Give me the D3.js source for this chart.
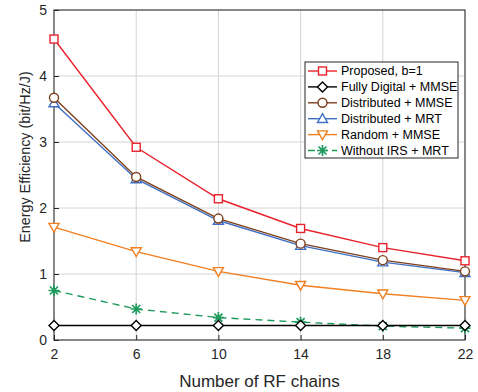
<!DOCTYPE html>
<html>
<head>
<meta charset="utf-8">
<script src="https://cdn.jsdelivr.net/npm/d3@7"></script>
<style>
  html, body { margin: 0; padding: 0; background: #fff; }
  svg { display: block; font-family: "Liberation Sans", Arial, sans-serif; }
</style>
</head>
<body>
<svg id="chart" width="478" height="392"></svg>
<script>
// Number of RF chains on the x axis
const rfChains = [2, 6, 10, 14, 18, 22];
const xTicks = [2, 6, 10, 14, 18, 22];
const yTicks = [0, 1, 2, 3, 4, 5];

// Energy efficiency (bit/Hz/J) for each scheme
const proposed      = [4.56, 2.92, 2.14, 1.69, 1.40, 1.20];
const fullyDigital  = [0.22, 0.22, 0.22, 0.22, 0.22, 0.22];
const distMMSE      = [3.67, 2.47, 1.84, 1.46, 1.21, 1.04];
const distMRT       = [3.59, 2.44, 1.81, 1.43, 1.18, 1.02];
const randomMMSE    = [1.71, 1.34, 1.04, 0.83, 0.70, 0.60];
const withoutIRS    = [0.75, 0.47, 0.34, 0.27, 0.21, 0.18];

const seriesNames = ["Proposed, b=1", "Fully Digital + MMSE", "Distributed + MMSE",
                     "Distributed + MRT", "Random + MMSE", "Without IRS + MRT"];

const series = [
  { name: seriesNames[0], values: proposed,     color: "#e8222c", marker: "square",  dash: null },
  { name: seriesNames[1], values: fullyDigital, color: "#000000", marker: "diamond", dash: null },
  { name: seriesNames[2], values: distMMSE,     color: "#7e3f1c", marker: "circle",  dash: null },
  { name: seriesNames[3], values: distMRT,      color: "#3e6fc2", marker: "triUp",   dash: null },
  { name: seriesNames[4], values: randomMMSE,   color: "#f07f22", marker: "triDown", dash: null },
  { name: seriesNames[5], values: withoutIRS,   color: "#1e9a5c", marker: "star",    dash: "7,5" }
];

const svg = d3.select("#chart");
const margin = { left: 54, right: 13, top: 10, bottom: 52 };
const W = 478, H = 392;
const x = d3.scaleLinear().domain([2, 22]).range([margin.left, W - margin.right]);
const y = d3.scaleLinear().domain([0, 5]).range([H - margin.bottom, margin.top]);

// grid
const grid = svg.append("g");
grid.selectAll("line.vx").data(xTicks).enter().append("line")
  .attr("x1", d => x(d)).attr("x2", d => x(d))
  .attr("y1", y(0)).attr("y2", y(5))
  .attr("stroke", "#d4d4d4").attr("stroke-width", 1);
grid.selectAll("line.hy").data(yTicks).enter().append("line")
  .attr("y1", d => y(d)).attr("y2", d => y(d))
  .attr("x1", x(2)).attr("x2", x(22))
  .attr("stroke", "#d4d4d4").attr("stroke-width", 1);

// axes (ticks point inward)
const xAxis = d3.axisBottom(x).tickValues(xTicks).tickSize(-5).tickPadding(9).tickFormat(d3.format("d"));
const yAxis = d3.axisLeft(y).tickValues(yTicks).tickSize(-5).tickPadding(7).tickFormat(d3.format("d"));
const gx = svg.append("g").attr("transform", `translate(0,${y(0)})`).call(xAxis);
const gy = svg.append("g").attr("transform", `translate(${x(2)},0)`).call(yAxis);
[gx, gy].forEach(g => {
  g.select(".domain").remove();
  g.selectAll(".tick line").attr("stroke", "#262626");
  g.selectAll(".tick text").attr("fill", "#262626").style("font-size", "14px")
    .style("font-family", "'Liberation Sans', Arial, sans-serif");
});

// box
svg.append("rect")
  .attr("x", x(2)).attr("y", y(5))
  .attr("width", x(22) - x(2)).attr("height", y(0) - y(5))
  .attr("fill", "none").attr("stroke", "#262626").attr("stroke-width", 1);

// marker drawing
function drawMarker(g, type, cx, cy, color) {
  const s = 4;
  if (type === "square") {
    g.append("rect").attr("x", cx - s).attr("y", cy - s).attr("width", 2 * s).attr("height", 2 * s)
      .attr("fill", "#fff").attr("stroke", color).attr("stroke-width", 1.4);
  } else if (type === "diamond") {
    const d = 5;
    g.append("path").attr("d", `M${cx},${cy - d}L${cx + d},${cy}L${cx},${cy + d}L${cx - d},${cy}Z`)
      .attr("fill", "#fff").attr("stroke", color).attr("stroke-width", 1.4);
  } else if (type === "circle") {
    g.append("circle").attr("cx", cx).attr("cy", cy).attr("r", 4.5)
      .attr("fill", "#fff").attr("stroke", color).attr("stroke-width", 1.4);
  } else if (type === "triUp") {
    const d = 5;
    g.append("path").attr("d", `M${cx},${cy - d}L${cx + d},${cy + d * 0.75}L${cx - d},${cy + d * 0.75}Z`)
      .attr("fill", "#fff").attr("stroke", color).attr("stroke-width", 1.4);
  } else if (type === "triDown") {
    const d = 5;
    g.append("path").attr("d", `M${cx},${cy + d}L${cx + d},${cy - d * 0.75}L${cx - d},${cy - d * 0.75}Z`)
      .attr("fill", "#fff").attr("stroke", color).attr("stroke-width", 1.4);
  } else if (type === "star") {
    const d = 5.5, e = 4;
    g.append("path")
      .attr("d", `M${cx - d},${cy}L${cx + d},${cy}M${cx},${cy - d}L${cx},${cy + d}` +
                 `M${cx - e},${cy - e}L${cx + e},${cy + e}M${cx - e},${cy + e}L${cx + e},${cy - e}`)
      .attr("fill", "none").attr("stroke", color).attr("stroke-width", 1.7);
  }
}

// lines and markers
const line = d3.line().x((d, i) => x(rfChains[i])).y(d => y(d));
// draw in reverse so the proposed curve sits on top
series.slice().reverse().forEach(s => {
  const g = svg.append("g");
  g.append("path").datum(s.values).attr("d", line)
    .attr("fill", "none").attr("stroke", s.color).attr("stroke-width", 1.4)
    .attr("stroke-dasharray", s.dash);
  s.values.forEach((v, i) => drawMarker(g, s.marker, x(rfChains[i]), y(v), s.color));
});

// axis titles
svg.append("text")
  .attr("x", (x(2) + x(22)) / 2).attr("y", 387)
  .attr("text-anchor", "middle").attr("fill", "#262626").style("font-size", "17px")
  .text("Number of RF chains");
svg.append("text")
  .attr("transform", `translate(30,157) rotate(-90)`)
  .attr("text-anchor", "middle").attr("fill", "#262626").style("font-size", "14.3px")
  .text("Energy Efficiency (bit/Hz/J)");

// legend
const lg = svg.append("g");
const lx = 305, ly = 62, lw = 153, rowH = 15.9;
lg.append("rect").attr("x", lx).attr("y", ly).attr("width", lw).attr("height", 96)
  .attr("fill", "#fff").attr("stroke", "#262626").attr("stroke-width", 1);
series.forEach((s, i) => {
  const cy = ly + 9 + i * rowH;
  lg.append("line").attr("x1", lx + 3).attr("x2", lx + 32).attr("y1", cy).attr("y2", cy)
    .attr("stroke", s.color).attr("stroke-width", 1.4).attr("stroke-dasharray", s.dash);
  drawMarker(lg, s.marker, lx + 17.5, cy, s.color);
  lg.append("text").attr("x", lx + 36).attr("y", cy).attr("dy", "0.35em")
    .attr("fill", "#000").style("font-size", "12.5px").text(s.name);
});
</script>
</body>
</html>
